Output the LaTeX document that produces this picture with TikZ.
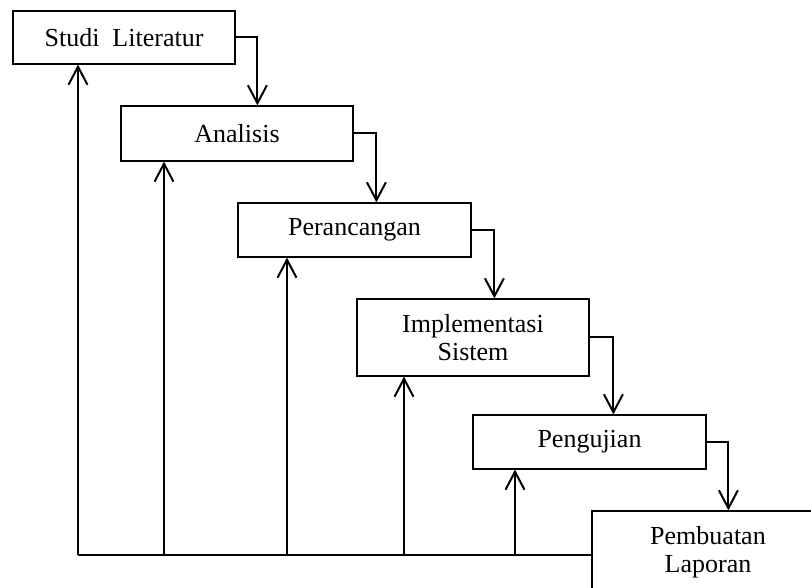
\documentclass[tikz,border=0pt]{standalone}
\usepackage{fontspec}
\setmainfont{Liberation Serif}
\usetikzlibrary{arrows.meta,calc}
\begin{document}
\begin{tikzpicture}[x=0.5pt,y=-0.5pt,
  stage/.style={draw,line width=0.6pt,rectangle,inner sep=0pt,align=center,
    font=\fontsize{13}{14}\selectfont},
  flow/.style={line width=1pt,-{Straight Barb[length=9pt,width=9.5pt]}},
  base/.style={line width=1pt}]
\useasboundingbox (0,0) rectangle (811,588);
\begin{scope}
\clip (0,0) rectangle (811,588);
\node[stage,minimum width=111pt,minimum height=26.5pt] (s1) at (124,37.5) {Studi\ \ Literatur};
\node[stage,minimum width=116pt,minimum height=27.5pt] (s2) at (237,133.5) {Analisis};
\node[stage,minimum width=116.5pt,minimum height=27pt] (s3) at (354.5,230) {Perancangan};
\node[stage,minimum width=116pt,minimum height=38.5pt] (s4) at (473,337.5) {Implementasi\\Sistem};
\node[stage,minimum width=116.5pt,minimum height=27pt] (s5) at (589.5,442) {Pengujian};
\node[stage,minimum width=116pt,minimum height=41pt] (s6) at (708,552) {Pembuatan\\Laporan};
\end{scope}
% forward connectors
\coordinate (t2) at ($(s2.north west)+(137,0)$);
\coordinate (t3) at ($(s3.north west)+(139,0)$);
\coordinate (t4) at ($(s4.north west)+(138,0)$);
\coordinate (t5) at ($(s5.north west)+(141,0)$);
\coordinate (t6) at ($(s6.north west)+(137,0)$);
\draw[flow] (s1.east) -| (t2);
\draw[flow] (s2.east) -| (t3);
\draw[flow] (s3.east) -| (t4);
\draw[flow] (s4.east) -| (t5);
\draw[flow] (s5.east) -| (t6);
% feedback
\coordinate (b1) at (78,555);
\coordinate (b2) at (164,555);
\coordinate (b3) at (287,555);
\coordinate (b4) at (404,555);
\coordinate (b5) at (515,555);
\draw[base] (b1) -- (s6.west |- b1);
\draw[flow] (b1) -- (b1 |- s1.south);
\draw[flow] (b2) -- (b2 |- s2.south);
\draw[flow] (b3) -- (b3 |- s3.south);
\draw[flow] (b4) -- (b4 |- s4.south);
\draw[flow] (b5) -- (b5 |- s5.south);
\end{tikzpicture}
\end{document}
